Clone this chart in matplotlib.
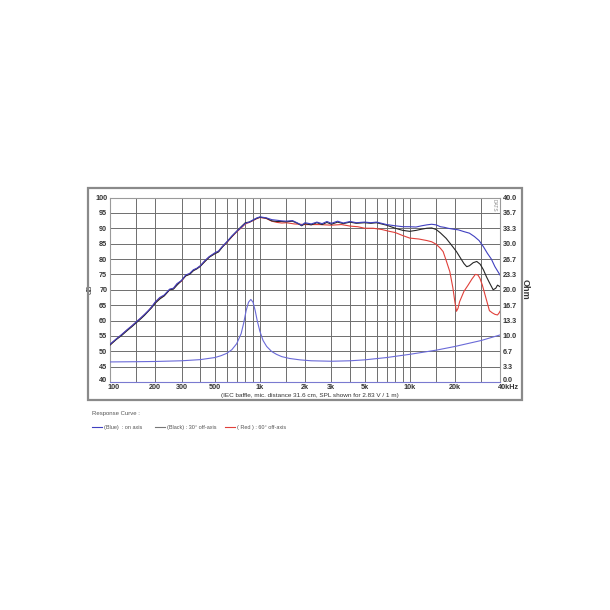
import matplotlib
matplotlib.use("Agg")
import matplotlib.pyplot as plt
from matplotlib.patches import Rectangle
import matplotlib.transforms as mtransforms

plt.rcParams['font.family'] = ['Liberation Sans', 'DejaVu Sans']

# ---------------- data ----------------
freq_blue = [100, 110, 120, 130, 140, 150, 160, 170, 180, 190, 200, 215, 230, 250, 265, 280, 300, 320, 340,
             360, 380, 400, 430, 460, 500, 530, 560, 600, 650, 700, 750, 800, 850, 900, 950, 1000, 1100, 1200,
             1300, 1400, 1500, 1650, 1800, 1900, 2000, 2200, 2400, 2600, 2800, 3000, 3300, 3600, 4000, 4400,
             5000, 5500, 6000, 6500, 7000, 8000, 9000, 10000, 11000, 12000, 13000, 14000, 15000, 16000, 17000,
             18000, 19500, 21000, 23000, 25000, 27000, 29000, 31000, 33000, 35000, 37000, 40000]
spl_blue = [52.3, 54.0, 55.5, 57.0, 58.3, 59.6, 60.8, 62.0, 63.2, 64.5, 66.0, 67.5, 68.3, 70.2, 70.5, 72.0, 73.0,
            74.8, 75.3, 76.5, 77.0, 77.8, 79.5, 80.8, 82.0, 82.6, 84.0, 85.5, 87.5, 89.0, 90.3, 91.6, 92.0, 92.7,
            93.3, 93.7, 93.4, 92.8, 92.6, 92.4, 92.3, 92.5, 91.6, 91.0, 91.8, 91.4, 92.0, 91.5, 92.2, 91.6, 92.3,
            91.7, 92.2, 91.8, 92.0, 91.8, 92.0, 91.6, 91.2, 90.8, 90.5, 90.5, 90.4, 90.8, 91.1, 91.3, 91.1, 90.5,
            90.3, 90.0, 89.7, 89.5, 88.9, 88.4, 87.3, 86.0, 84.0, 81.8, 80.0, 77.5, 74.8]

freq_black = [100, 110, 120, 130, 140, 150, 160, 170, 180, 190, 200, 215, 230, 250, 265, 280, 300, 320, 340,
              360, 380, 400, 430, 460, 500, 530, 560, 600, 650, 700, 750, 800, 850, 900, 950, 1000, 1100, 1200,
              1300, 1400, 1500, 1650, 1800, 1900, 2000, 2200, 2400, 2600, 2800, 3000, 3300, 3600, 4000, 4400,
              5000, 5500, 6000, 7000, 8000, 9000, 10000, 11000, 12000, 13000, 14000, 15000, 16000, 17500, 19000,
              20500, 22000, 23000, 24000, 25000, 26500, 28000, 29500, 31000, 32500, 34000, 36000, 37500, 38500,
              40000]
spl_black = [52.0, 53.8, 55.2, 56.7, 58.0, 59.3, 60.5, 61.7, 63.0, 64.2, 65.6, 67.0, 68.0, 70.0, 70.2, 71.5,
             73.0, 74.5, 75.0, 76.2, 76.8, 77.6, 79.2, 80.6, 81.7, 82.3, 83.8, 85.4, 87.3, 89.0, 90.5, 91.8, 92.0,
             92.6, 93.2, 93.6, 93.3, 92.4, 92.2, 92.2, 92.1, 92.3, 91.5, 90.8, 91.5, 91.1, 91.8, 91.2, 91.9, 91.3,
             92.0, 91.5, 92.0, 91.6, 91.8, 91.6, 91.8, 91.0, 90.0, 89.3, 89.0, 89.3, 89.7, 90.0, 90.1, 89.6, 88.5,
             86.7, 84.5, 82.4, 80.0, 78.5, 77.5, 77.8, 78.8, 79.2, 78.3, 76.5, 74.2, 72.3, 70.0, 70.5, 71.5, 71.0]

freq_red = [100, 110, 120, 130, 140, 150, 160, 170, 180, 190, 200, 215, 230, 250, 265, 280, 300, 320, 340,
            360, 380, 400, 430, 460, 500, 530, 560, 600, 650, 700, 750, 800, 850, 900, 950, 1000, 1100, 1200,
            1300, 1400, 1500, 1700, 2000, 2500, 3000, 3500, 4000, 4500, 5000, 5700, 6500, 7300, 8000, 9000,
            10000, 11500, 13000, 14000, 15000, 16000, 16700, 17500, 18500, 19400, 20000, 20500, 21000, 21500,
            23000, 24500, 26000, 27400, 28500, 29400, 30500, 31600, 33000, 34000, 35500, 37000, 38500, 39500,
            40000]
spl_red = [52.1, 53.9, 55.4, 56.9, 58.2, 59.5, 60.7, 61.9, 63.1, 64.4, 65.8, 67.3, 68.1, 70.0, 70.4, 71.8,
           72.8, 74.6, 75.2, 76.3, 76.9, 77.7, 79.3, 80.7, 81.8, 82.5, 83.9, 85.3, 87.2, 88.8, 90.1, 91.4, 91.9,
           92.5, 93.1, 93.5, 93.2, 92.3, 91.9, 91.7, 91.8, 91.4, 91.2, 91.2, 91.0, 91.2, 90.7, 90.5, 90.0, 90.0,
           89.6, 89.0, 88.6, 87.6, 86.8, 86.5, 86.0, 85.6, 84.8, 83.5, 82.4, 79.5, 75.9, 70.6, 66.0, 63.0, 64.0,
           66.1, 69.5, 71.5, 73.5, 75.0, 74.8, 73.7, 71.5, 68.8, 65.5, 63.2, 62.5, 62.0, 61.8, 62.5, 63.0]

freq_imp = [100, 150, 200, 300, 400, 500, 550, 600, 650, 700, 750, 780, 810, 840, 870, 900, 930, 960, 1000,
            1050, 1110, 1200, 1290, 1400, 1580, 1850, 2200, 3000, 4000, 5000, 7000, 10000, 15000, 20000, 30000,
            40000]
ohm_imp = [4.35, 4.4, 4.45, 4.6, 4.85, 5.3, 5.7, 6.2, 7.0, 8.3, 10.5, 12.8, 15.5, 17.3, 17.9, 17.3, 15.5, 13.3,
           11.0, 9.0, 7.7, 6.6, 6.0, 5.5, 5.1, 4.8, 4.6, 4.5, 4.6, 4.8, 5.3, 6.0, 6.9, 7.7, 9.0, 10.2]

grid_freqs = [100, 150, 200, 300, 400, 500, 600, 700, 800, 900, 1000, 1500, 2000, 3000, 4000, 5000, 6000,
              7000, 8000, 9000, 10000, 15000, 20000, 30000, 40000]
xtick_vals = [100, 200, 300, 500, 1000, 2000, 3000, 5000, 10000, 20000, 40000]
xtick_labels = ['100', '200', '300', '500', '1k', '2k', '3k', '5k', '10k', '20k', '40kHz']
db_ticks = [40, 45, 50, 55, 60, 65, 70, 75, 80, 85, 90, 95, 100]
ohm_ticks = [40 * i / 12 for i in range(13)]

# ---------------- figure ----------------
fig = plt.figure(figsize=(6.1, 6.1), dpi=100)
fig.patch.set_facecolor('white')

# outer frame
fig.patches.append(Rectangle((88 / 610, 1 - 400 / 610), 434 / 610, 212 / 610, transform=fig.transFigure,
                             fill=False, edgecolor='#8a8a8a', linewidth=1.6, zorder=0))

ax = fig.add_axes([110 / 610, 1 - 382 / 610, 390 / 610, 184.5 / 610])
ax.set_xscale('log')
ax.set_xlim(100, 40000)
ax.set_ylim(40, 100)

for g in grid_freqs:
    ax.axvline(g, color='#6e6e6e', linewidth=0.7, zorder=1)
for d in db_ticks:
    ax.axhline(d, color='#6e6e6e', linewidth=0.7, zorder=1)

ax.plot(freq_red, spl_red, color='#e0403a', linewidth=0.8, zorder=3)
ax.plot(freq_black, spl_black, color='#262626', linewidth=0.8, zorder=4)
ax.plot(freq_blue, spl_blue, color='#4040c0', linewidth=0.8, zorder=5)

ax.set_xticks(xtick_vals)
ax.set_xticklabels(xtick_labels)
ax.xaxis.set_minor_locator(matplotlib.ticker.NullLocator())
ax.set_yticks(db_ticks)
ax.set_yticklabels([str(d) for d in db_ticks])
ax.tick_params(axis='both', length=0, labelsize=5.2, colors='#333333', pad=2)
ax.tick_params(axis='x', pad=1.5)
for lbl in ax.get_xticklabels():
    lbl.set_fontweight('bold')
for lbl in ax.get_yticklabels():
    lbl.set_fontweight('bold')
last = ax.get_xticklabels()[-1]
last.set_transform(last.get_transform() + mtransforms.ScaledTranslation(6 / 72, 0, fig.dpi_scale_trans))
first = ax.get_xticklabels()[0]
first.set_transform(first.get_transform() + mtransforms.ScaledTranslation(2.5 / 72, 0, fig.dpi_scale_trans))
ylab0 = ax.get_yticklabels()[0]
ylab0.set_transform(ylab0.get_transform() + mtransforms.ScaledTranslation(0, 1.5 / 72, fig.dpi_scale_trans))
for s in ax.spines.values():
    s.set_color('#9a9a9a')
    s.set_linewidth(0.8)
ax.spines['bottom'].set_color('#7a7ad0')
ax.set_ylabel('dB', fontsize=5.5, color='#333333', labelpad=1)

ax2 = ax.twinx()
ax2.set_ylim(0, 40)
ax2.plot(freq_imp, ohm_imp, color='#6a6ad8', linewidth=0.8, zorder=3)
ax2.set_yticks(ohm_ticks)
ax2.set_yticklabels(['%.1f' % v for v in ohm_ticks])
ax2.tick_params(axis='y', length=0, labelsize=5.2, colors='#333333', pad=2)
for lbl in ax2.get_yticklabels():
    lbl.set_fontweight('bold')
lbl0 = ax2.get_yticklabels()[0]
lbl0.set_transform(lbl0.get_transform() + mtransforms.ScaledTranslation(0, 1.5 / 72, fig.dpi_scale_trans))
for s in ax2.spines.values():
    s.set_visible(False)
ax2.set_ylabel('Ohm', fontsize=6.5, color='#333333', rotation=270, labelpad=9, fontweight='bold')
ax2.text(0.985, 0.99, 'DATS', transform=ax2.transAxes, rotation=270, fontsize=3.5, color='#888888',
         ha='center', va='top')

fig.text(310 / 610, 1 - 395.5 / 610, '(IEC baffle, mic. distance 31.6 cm, SPL shown for 2.83 V / 1 m)',
         fontsize=4.6, color='#333333', ha='center', va='center')

# legend
fig.text(92 / 610, 1 - 413 / 610, 'Response Curve :', fontsize=4.3, color='#555555', ha='left', va='center')
ly = 1 - 427 / 610
leg_items = [('#4040c0', '(Blue)  : on axis', 92), ('#777777', '(Black) : 30\u00b0 off-axis', 155),
             ('#e0403a', '( Red ) : 60\u00b0 off-axis', 225)]
for col, txt, x0 in leg_items:
    fig.add_artist(plt.Line2D([x0 / 610, (x0 + 10) / 610], [ly, ly], transform=fig.transFigure, color=col,
                              linewidth=0.8))
    fig.text((x0 + 12) / 610, ly, txt, fontsize=4.0, color='#555555', ha='left', va='center')

fig.savefig('out.png', dpi=100, facecolor='white')
